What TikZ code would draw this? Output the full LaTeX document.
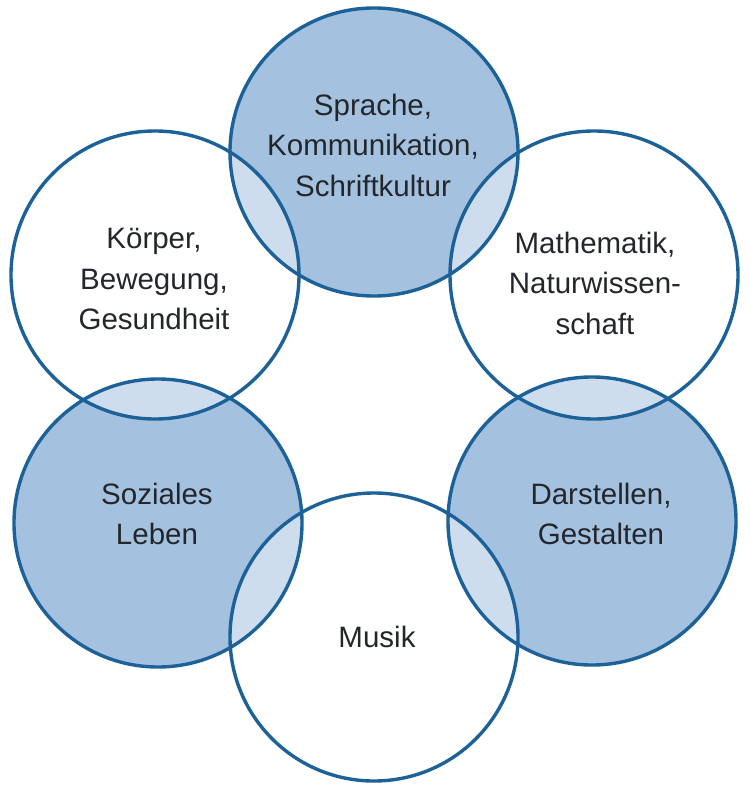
\documentclass[tikz,border=0pt]{standalone}
\usepackage{fontspec}
\setmainfont{Liberation Sans}
\definecolor{ring}{RGB}{28,98,152}
\definecolor{bluefill}{RGB}{164,194,224}
\definecolor{txt}{RGB}{35,38,42}
\begin{document}
\begin{tikzpicture}[x=1pt,y=-1pt,
  bluecirc/.style={circle,minimum size=288pt,inner sep=0pt,fill=bluefill},
  whitecirc/.style={circle,minimum size=288pt,inner sep=0pt,fill=white,fill opacity=0.45},
  ringline/.style={draw=ring,line width=3.4pt},
  lbl/.style={align=center,text=txt,font=\fontsize{29.5}{40.5}\selectfont}]
\useasboundingbox (0,0) rectangle (750,792);
% blue circles
\node[bluecirc] (sprache) at (374,152) {};
\node[bluecirc] (sozial) at (158,523) {};
\node[bluecirc] (darst) at (592,521) {};
% white circles (translucent)
\node[whitecirc] (koerper) at (155,275) {};
\node[whitecirc] (mathe) at (594,275) {};
\node[whitecirc] (musik) at (374,637) {};
% outlines
\foreach \n in {sprache,sozial,darst,koerper,mathe,musik}
  \draw[ringline] (\n.center) circle (144pt);
% labels
\node[lbl] (tsprache) at (373,145) {Sprache,\\Kommunikation,\\Schriftkultur};
\node[lbl] (tkoerper) at (154,279) {Körper,\\Bewegung,\\Gesundheit};
\node[lbl] (tmathe) at (595,283) {Mathematik,\\Naturwissen-\\schaft};
\node[lbl] (tsozial) at (157,514) {Soziales\\Leben};
\node[lbl] (tdarst) at (601,514) {Darstellen,\\Gestalten};
\node[lbl] (tmusik) at (377,637) {Musik};
\end{tikzpicture}
\end{document}
